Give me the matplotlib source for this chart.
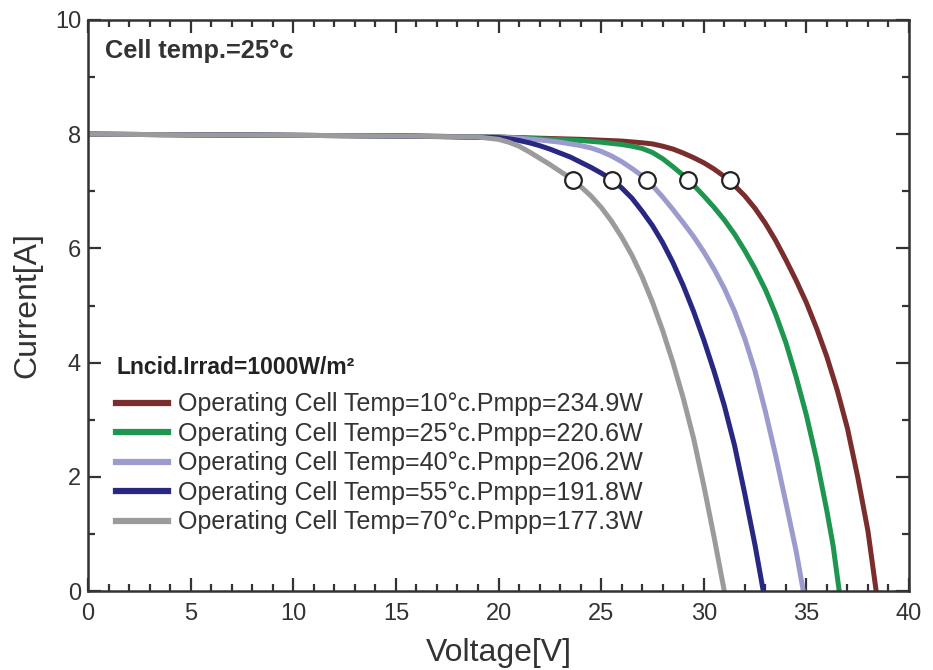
import matplotlib
matplotlib.use("Agg")
import matplotlib.pyplot as plt
from matplotlib.ticker import MultipleLocator

plt.rcParams['font.family'] = ['Liberation Sans', 'DejaVu Sans']

# I-V curves at 1000 W/m2 for five operating cell temperatures
v_10 = [0, 5, 10, 15, 20, 24, 26, 27, 27.5, 28, 28.5, 29, 29.5, 30, 30.5, 31, 31.5,
        32, 32.5, 33, 33.5, 34, 34.5, 35, 35.5, 36, 36.5, 37, 37.5, 38, 38.4]
i_10 = [8.0, 7.99, 7.98, 7.97, 7.95, 7.91, 7.88, 7.85, 7.83, 7.79, 7.74, 7.67, 7.59, 7.5, 7.39, 7.26, 7.1,
        6.92, 6.7, 6.44, 6.14, 5.8, 5.44, 5.05, 4.6, 4.1, 3.52, 2.85, 2.0, 1.05, 0.0]

v_25 = [0, 5, 10, 15, 20, 22, 24, 25, 26, 26.5, 27, 27.5, 28, 28.5, 29, 29.5, 30, 30.5,
        31, 31.5, 32, 32.5, 33, 33.5, 34, 34.5, 35, 35.5, 36, 36.3, 36.6]
i_25 = [8.0, 7.99, 7.98, 7.97, 7.95, 7.92, 7.89, 7.86, 7.82, 7.79, 7.75, 7.68, 7.57, 7.43, 7.28, 7.11, 6.92, 6.72,
        6.5, 6.25, 5.96, 5.64, 5.28, 4.85, 4.35, 3.75, 3.08, 2.3, 1.4, 0.8, 0.0]

v_40 = [0, 5, 10, 15, 20, 21, 22, 23, 24, 24.5, 25, 25.5, 26, 26.5, 27, 27.5, 28, 28.5, 29,
        29.5, 30, 30.5, 31, 31.5, 32, 32.5, 33, 33.5, 34, 34.5, 34.85]
i_40 = [8.0, 7.99, 7.98, 7.97, 7.95, 7.93, 7.9, 7.86, 7.8, 7.76, 7.7, 7.62, 7.52, 7.4, 7.27, 7.1, 6.9, 6.68, 6.45,
        6.21, 5.94, 5.64, 5.3, 4.9, 4.42, 3.85, 3.15, 2.38, 1.55, 0.7, 0.0]

v_55 = [0, 5, 10, 15, 20, 20.5, 21, 21.5, 22, 22.5, 23, 23.5, 24, 24.5, 25, 25.55, 26, 26.5, 27,
        27.5, 28, 28.5, 29, 29.5, 30, 30.5, 31, 31.5, 32, 32.5, 32.9]
i_55 = [8.0, 7.99, 7.98, 7.97, 7.94, 7.92, 7.89, 7.85, 7.8, 7.74, 7.67, 7.6, 7.51, 7.42, 7.32, 7.2, 7.06, 6.88, 6.65,
        6.4, 6.1, 5.75, 5.35, 4.9, 4.4, 3.85, 3.25, 2.55, 1.7, 0.8, 0.0]

v_70 = [0, 5, 10, 15, 19, 20, 20.5, 21, 21.5, 22, 22.5, 23, 23.65, 24.5, 25, 25.5, 26, 26.5, 27,
        27.5, 28, 28.5, 29, 29.5, 30, 30.5, 31]
i_70 = [8.0, 7.99, 7.98, 7.97, 7.95, 7.91, 7.86, 7.79, 7.69, 7.58, 7.47, 7.35, 7.2, 6.92, 6.72, 6.48, 6.2, 5.88, 5.5,
        5.06, 4.56, 4.0, 3.38, 2.68, 1.85, 0.95, 0.0]

# maximum power points
mpp_v = [23.65, 25.55, 27.25, 29.25, 31.3]
mpp_i = [7.2, 7.2, 7.2, 7.2, 7.2]

labels = ['Operating Cell Temp=10°c.Pmpp=234.9W',
          'Operating Cell Temp=25°c.Pmpp=220.6W',
          'Operating Cell Temp=40°c.Pmpp=206.2W',
          'Operating Cell Temp=55°c.Pmpp=191.8W',
          'Operating Cell Temp=70°c.Pmpp=177.3W']
colors = ['#7a2d2d', '#1e9650', '#9b9bcd', '#282882', '#9b9b9b']

fig = plt.figure(figsize=(9.33, 6.7), dpi=100)
ax = fig.add_axes([88 / 933, 79 / 670, 821 / 933, 571 / 670])

curves = [(v_10, i_10), (v_25, i_25), (v_40, i_40), (v_55, i_55), (v_70, i_70)]
for (v, i), c, lab in zip(curves, colors, labels):
    ax.plot(v, i, color=c, lw=3.6, label=lab, solid_joinstyle='round')

ax.plot(mpp_v, mpp_i, 'o', ms=12, mfc='white', mec='#222222', mew=1.6, zorder=5)

ax.set_xlim(0, 40)
ax.set_ylim(0, 10)
ax.xaxis.set_major_locator(MultipleLocator(5))
ax.xaxis.set_minor_locator(MultipleLocator(1))
ax.yaxis.set_major_locator(MultipleLocator(2))
ax.yaxis.set_minor_locator(MultipleLocator(1))
ax.tick_params(which='both', direction='in', top=True, right=True,
               color='#333333', width=1.6, labelsize=17, labelcolor='#333333')
ax.tick_params(which='major', length=9.5)
ax.tick_params(which='minor', length=4.8)
ax.tick_params(axis='x', which='major', pad=9)
ax.tick_params(axis='y', which='major', pad=5)
for s in ax.spines.values():
    s.set_linewidth(1.8)
    s.set_color('#333333')

ax.set_xlabel('Voltage[V]', fontsize=23, color='#333333', labelpad=9)
ax.set_ylabel('Current[A]', fontsize=23, color='#333333', labelpad=9)

ax.text(0.021, 9.46, 'Cell temp.=25°c', fontsize=18.3, fontweight='bold',
        color='#333333', va='center', transform=ax.get_yaxis_transform())
ax.text(0.035, 3.92, 'Lncid.Irrad=1000W/m²', fontsize=16.5, fontweight='bold',
        color='#222222', va='center', transform=ax.get_yaxis_transform())

leg = ax.legend(loc='upper left', bbox_to_anchor=(0.034, 0.348), frameon=False,
                fontsize=18, handlelength=2.08, handletextpad=0.4,
                labelspacing=0.22, borderaxespad=0, borderpad=0)
for t in leg.get_texts():
    t.set_color('#333333')
for h in leg.legend_handles:
    h.set_linewidth(4.5)

fig.savefig('out.png', dpi=100)
